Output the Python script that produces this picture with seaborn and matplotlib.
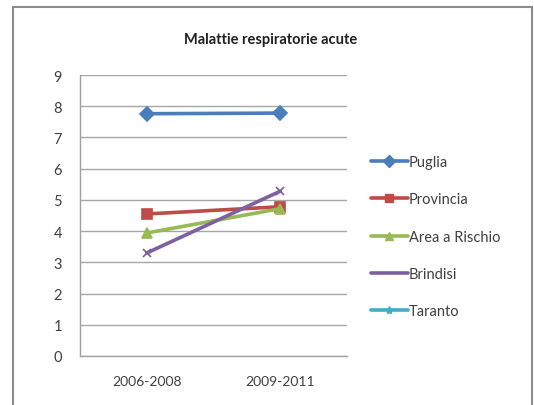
import pandas as pd
import numpy as np
import matplotlib
matplotlib.use("Agg")
import matplotlib.pyplot as plt
from matplotlib.lines import Line2D
from matplotlib.patches import Rectangle
import seaborn as sns

periods = ["2006-2008", "2009-2011"]
series = ["Puglia", "Provincia", "Area a Rischio", "Brindisi", "Taranto"]
puglia = [7.76, 7.78]
provincia = [4.55, 4.78]
area_rischio = [3.94, 4.72]
brindisi = [3.30, 5.28]
taranto = [np.nan, np.nan]

colors = ["#4A7EBB", "#BE4B48", "#98B954", "#7D60A0", "#46AAC5"]
markers = ["D", "s", "^", "x", "*"]

values = [puglia, provincia, area_rischio, brindisi, taranto]
df = pd.DataFrame({
    "period": periods * len(series),
    "serie": [s for s in series for _ in periods],
    "value": [v for vals in values for v in vals],
})
df["x"] = df["period"].map({p: i for i, p in enumerate(periods)})

sns.set_style("white")
plt.rcParams["font.family"] = ["Lato", "DejaVu Sans"]

fig = plt.figure(figsize=(5.34, 4.06), dpi=100)
ax = fig.add_axes([0.150, 0.1207, 0.500, 0.6921])

# outer chart frame
fig.patches.append(Rectangle((13 / 534, -0.05), (532 - 13) / 534, 1.05 - 8 / 406,
                             transform=fig.transFigure, fill=False,
                             edgecolor="#8c8c8c", linewidth=1.5))

handles = []
for name, col, mk in zip(series, colors, markers):
    sub = df[df["serie"] == name].dropna()
    if len(sub):
        ms = 7 if mk != "x" else 6
        sns.lineplot(data=sub, x="x", y="value", ax=ax, color=col, linewidth=2.6,
                     marker=mk, markersize=ms, markeredgecolor=col,
                     markeredgewidth=1.2, legend=False)
    handles.append(Line2D([], [], color=col, linewidth=2.6, marker=mk,
                          markersize=6 if mk != "x" else 0, markeredgecolor=col,
                          label=name))

ax.set_xlim(-0.5, 1.5)
ax.set_ylim(0, 9)
ax.set_yticks(range(0, 10))
ax.set_xticks([0, 1])
ax.set_xticklabels(periods)
ax.set_xticks([-0.5, 0.5, 1.5], minor=True)
ax.tick_params(axis="x", which="major", length=0, pad=14, labelsize=10, colors="#404040")
ax.tick_params(axis="x", which="minor", length=5, color="#a0a0a0", width=1)
ax.tick_params(axis="y", length=7, color="#a0a0a0", width=1, pad=6,
               labelsize=10.5, colors="#404040")
ax.tick_params(axis="y", color="#a0a0a0")
ax.yaxis.grid(True, color="#a6a6a6", linewidth=1)
ax.set_axisbelow(True)
ax.set_xlabel("")
ax.set_ylabel("")
for side in ["top", "right"]:
    ax.spines[side].set_visible(False)
for side in ["left", "bottom"]:
    ax.spines[side].set_color("#a0a0a0")
    ax.spines[side].set_linewidth(1)

fig.text(271 / 534, 1 - 40 / 406, "Malattie respiratorie acute", ha="center",
         va="center", fontsize=10.5, fontweight="bold", color="#202020")

fig.legend(handles=handles, loc="upper left", bbox_to_anchor=(358 / 534, 1 - 143 / 406),
           frameon=False, fontsize=10.5, handlelength=2.5, handletextpad=0.1,
           labelspacing=1.6, labelcolor="#404040")

fig.savefig("out.png", dpi=100)
